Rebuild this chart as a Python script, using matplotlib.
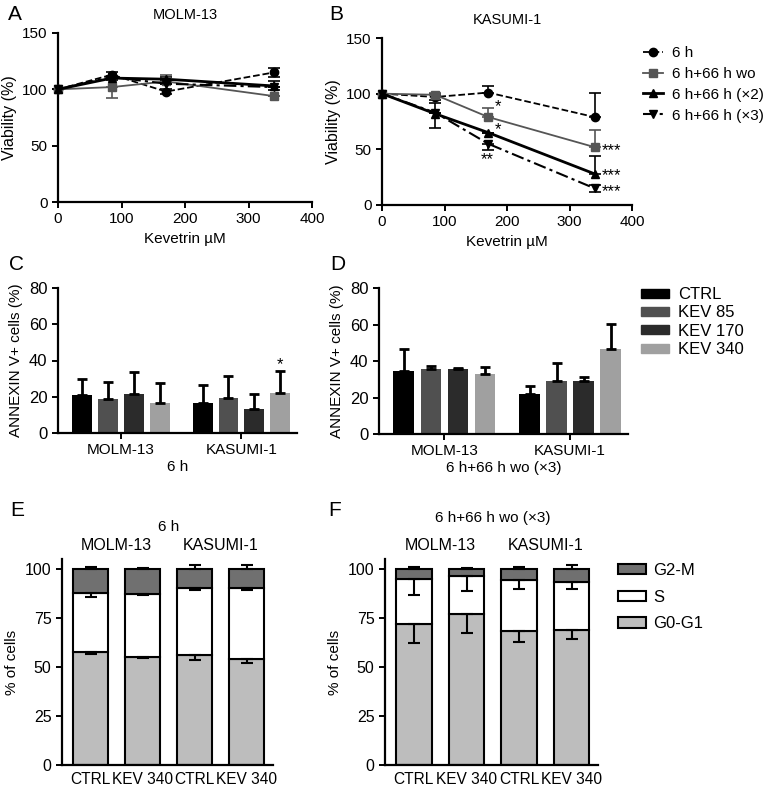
import numpy as np
import matplotlib
matplotlib.use('Agg')
import matplotlib.pyplot as plt
from matplotlib.lines import Line2D
from matplotlib.patches import Patch

plt.rcParams['font.family'] = ['Liberation Sans', 'DejaVu Sans']
plt.rcParams['font.size'] = 10
plt.rcParams['axes.linewidth'] = 1.6
plt.rcParams['xtick.major.width'] = 1.4
plt.rcParams['ytick.major.width'] = 1.4
plt.rcParams['xtick.major.size'] = 4
plt.rcParams['ytick.major.size'] = 4

# ---- viability data (panels A, B) ----
dose = [0, 85, 170, 340]
series_names = ['6 h', '6 h+66 h wo', '6 h+66 h (×2)', '6 h+66 h (×3)']

molm_6h = [100, 113, 98, 115]
molm_wo = [100, 102, 107, 94]
molm_x2 = [100, 110, 109, 103]
molm_x3 = [100, 111, 105, 102]
molm_err_lo = [[0, 2, 2, 4], [0, 10, 2, 0], [0, 2, 2, 4], [0, 0, 0, 0]]
molm_err_hi = [[0, 2, 2, 4], [0, 0, 6, 0], [0, 2, 2, 4], [0, 0, 0, 0]]

kas_6h = [100, 97, 101, 79]
kas_wo = [100, 99, 79, 52]
kas_x2 = [100, 82, 65, 28]
kas_x3 = [100, 83, 55, 15]
kas_err_lo = [[0, 3, 0, 0], [0, 0, 0, 0], [0, 13, 0, 0], [0, 0, 6, 3]]
kas_err_hi = [[0, 3, 6, 22], [0, 2, 8, 15], [0, 10, 0, 16], [0, 0, 0, 3]]

# ---- annexin data (panels C, D) ----
cell_lines = ['MOLM-13', 'KASUMI-1']
treatments = ['CTRL', 'KEV 85', 'KEV 170', 'KEV 340']
annex_6h = [[21, 19, 21.5, 16.5], [16.5, 19.5, 13, 22]]
annex_6h_err = [[9, 9, 12, 11], [10, 12, 8.5, 12]]
annex_wo = [[34.5, 35.5, 35.5, 33], [22, 29, 29, 46.5]]
annex_wo_err = [[12, 2, 0.4, 3.5], [4.5, 10, 2.5, 14]]

# ---- cell cycle data (panels E, F) ----
cc_labels = ['CTRL', 'KEV 340', 'CTRL', 'KEV 340']
phases = ['G2-M', 'S', 'G0-G1']
e_g0g1 = [57.5, 55, 56, 54]
e_s = [30, 32, 34, 36]
e_g2m = [12.5, 13, 10, 10]
e_g0g1_err = [0.8, 0.5, 2.5, 2]
e_s_err = [2, 0.6, 1, 0.6]
e_g2m_err = [1, 0.5, 2, 2]
f_g0g1 = [72, 77, 68.5, 69]
f_s = [23, 19.5, 26, 24.5]
f_g2m = [5, 3.5, 5.5, 6.5]
f_g0g1_err = [10, 9.5, 6, 5]
f_s_err = [8.5, 8, 5, 4]
f_g2m_err = [1, 0.5, 1, 2]

W, H = 765, 790
fig = plt.figure(figsize=(W / 100, H / 100), dpi=100)


def box(l, t, r, b):
    return [l / W, 1 - b / H, (r - l) / W, (b - t) / H]


styles = [dict(color='black', ls='--', marker='o', lw=1.3),
          dict(color='#555555', ls='-', marker='s', lw=1.3),
          dict(color='black', ls='-', marker='^', lw=2.0),
          dict(color='black', ls=(0, (6, 2, 1.5, 2)), marker='v', lw=1.5)]


def viability(ax, vals, lo, hi, title):
    for v, l, h, st in zip(vals, lo, hi, styles):
        ax.errorbar(dose, v, yerr=[l, h], color=st['color'], ls=st['ls'], lw=st['lw'],
                    marker=st['marker'], ms=6, elinewidth=1.2, capsize=4, capthick=1.2,
                    clip_on=False, zorder=3)
    ax.set_xlim(0, 400)
    ax.set_ylim(0, 150)
    ax.set_xticks([0, 100, 200, 300, 400])
    ax.set_yticks([0, 50, 100, 150])
    ax.set_xlabel('Kevetrin µM', fontsize=11)
    ax.set_ylabel('Viability (%)', fontsize=11.5)
    ax.set_title(title, fontsize=10.5, pad=10)
    ax.tick_params(labelsize=11)
    ax.spines[['top', 'right']].set_visible(False)


axA = fig.add_axes(box(58, 33, 312, 202))
viability(axA, [molm_6h, molm_wo, molm_x2, molm_x3], molm_err_lo, molm_err_hi, 'MOLM-13')
axB = fig.add_axes(box(382, 38, 632, 205))
viability(axB, [kas_6h, kas_wo, kas_x2, kas_x3], kas_err_lo, kas_err_hi, 'KASUMI-1')
for x, y, s in [(180, 84, '*'), (180, 64, '*'), (158, 37, '**'),
                (352, 45, '***'), (352, 22, '***'), (352, 8, '***')]:
    axB.text(x, y, s, fontsize=12)

handles = [Line2D([], [], color=st['color'], ls=st['ls'], lw=st['lw'], marker=st['marker'], ms=6)
           for st in styles]
axB.legend(handles, series_names, loc='upper left', bbox_to_anchor=(643 / W, 1 - 46 / H),
           bbox_transform=fig.transFigure, frameon=False, fontsize=11,
           handlelength=1.3, handletextpad=0.6, labelspacing=0.45, borderpad=0, borderaxespad=0)

bar_colors = ['#000000', '#505050', '#2b2b2b', '#a0a0a0']
offsets = (np.arange(4) - 1.5) * 0.215


def annexin(ax, vals, errs, xlabel):
    for g in range(2):
        for i in range(4):
            x = g + offsets[i]
            ax.bar(x, vals[g][i], width=0.165, color=bar_colors[i], zorder=2)
            ax.errorbar(x, vals[g][i], yerr=[[0], [errs[g][i]]], color='black',
                        elinewidth=2, capsize=3.5, capthick=2, zorder=3)
    ax.set_xlim(-0.52, 1.46)
    ax.set_ylim(0, 80)
    ax.set_yticks([0, 20, 40, 60, 80])
    ax.set_xticks([0, 1])
    ax.set_xticklabels(cell_lines, fontsize=11)
    ax.set_xlabel(xlabel, fontsize=11, labelpad=2)
    ax.set_ylabel('ANNEXIN V+ cells (%)', fontsize=11)
    ax.tick_params(axis='y', labelsize=12)
    ax.spines[['top', 'right']].set_visible(False)


axC = fig.add_axes(box(58, 288, 297, 433))
annexin(axC, annex_6h, annex_6h_err, '6 h')
axC.text(1 + offsets[3], annex_6h[1][3] + annex_6h_err[1][3] + 1, '*', ha='center', fontsize=12)
axD = fig.add_axes(box(379, 288, 628, 434))
annexin(axD, annex_wo, annex_wo_err, '6 h+66 h wo (×3)')
axD.legend([Patch(color=c) for c in bar_colors], treatments, loc='upper left',
           bbox_to_anchor=(641 / W, 1 - 287 / H), bbox_transform=fig.transFigure,
           frameon=False, fontsize=12, handlelength=1.7, handleheight=0.45,
           handletextpad=0.5, labelspacing=0.2, borderpad=0, borderaxespad=0)

phase_colors = {'G2-M': '#707070', 'S': '#ffffff', 'G0-G1': '#bdbdbd'}


def cell_cycle(ax, g0, s, g2, g0e, se, g2e, title, title_y):
    x = np.arange(4)
    kw = dict(width=0.67, edgecolor='black', linewidth=1.5, zorder=2)
    ax.bar(x, g0, color=phase_colors['G0-G1'], **kw)
    s_top = np.array(g0) + np.array(s)
    ax.bar(x, s, bottom=g0, color=phase_colors['S'], **kw)
    ax.bar(x, g2, bottom=s_top, color=phase_colors['G2-M'], **kw)
    ek = dict(fmt='none', ecolor='black', elinewidth=1.5, capsize=4.5, capthick=1.5, zorder=3)
    ax.errorbar(x, g0, yerr=[g0e, np.zeros(4)], **ek)
    ax.errorbar(x, s_top, yerr=[se, np.zeros(4)], **ek)
    ax.errorbar(x, s_top + np.array(g2), yerr=[np.zeros(4), g2e], **ek)
    ax.set_xlim(-0.55, 3.5)
    ax.set_ylim(0, 105)
    ax.set_yticks([0, 25, 50, 75, 100])
    ax.set_xticks(x)
    ax.set_xticklabels(cc_labels, fontsize=11.2)
    ax.tick_params(axis='x', length=0, pad=5)
    ax.tick_params(axis='y', labelsize=11.5)
    ax.set_ylabel('% of cells', fontsize=11)
    ax.spines[['top', 'right']].set_visible(False)
    tr = ax.get_xaxis_transform()
    ax.text(0.5, 1.065, cell_lines[0], transform=tr, ha='center', va='center', fontsize=11.5)
    ax.text(2.5, 1.065, cell_lines[1], transform=tr, ha='center', va='center', fontsize=11.5)
    ax.text(1.5, title_y, title, transform=tr, ha='center', va='center', fontsize=11)


axE = fig.add_axes(box(62, 559, 273, 765))
cell_cycle(axE, e_g0g1, e_s, e_g2m, e_g0g1_err, e_s_err, e_g2m_err, '6 h', 1.153)
axF = fig.add_axes(box(385, 559, 598, 765))
cell_cycle(axF, f_g0g1, f_s, f_g2m, f_g0g1_err, f_s_err, f_g2m_err, '6 h+66 h wo (×3)', 1.20)
axF.legend([Patch(facecolor=phase_colors[p], edgecolor='black', linewidth=1.5) for p in phases],
           phases, loc='upper left', bbox_to_anchor=(618 / W, 1 - 563 / H),
           bbox_transform=fig.transFigure, frameon=False, fontsize=12,
           handlelength=1.7, handleheight=0.6, handletextpad=0.4, labelspacing=0.7,
           borderpad=0, borderaxespad=0)

for s, x, y in [('A', 8, 14), ('B', 329, 14), ('C', 9, 265), ('D', 330, 265),
                ('E', 10, 511), ('F', 328, 511)]:
    fig.text(x / W, 1 - y / H, s, fontsize=15, va='center', ha='left')

fig.savefig('out.png', dpi=100)
